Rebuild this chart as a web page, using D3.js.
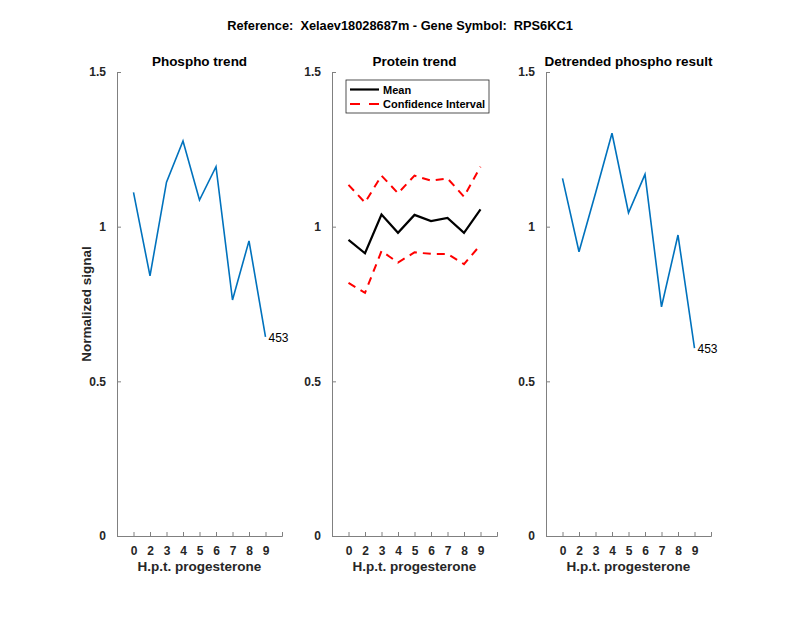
<!DOCTYPE html>
<html>
<head>
<meta charset="utf-8">
<script src="https://cdn.jsdelivr.net/npm/d3@7"></script>
<style>
  body { margin: 0; background: #fff; }
  text { font-family: "Liberation Sans", Arial, Helvetica, sans-serif; }
</style>
</head>
<body>
<svg id="chart" width="800" height="618"></svg>
<script>
const hours = ['0', '2', '3', '4', '5', '6', '7', '8', '9'];
const phospho = [1.111, 0.841, 1.144, 1.277, 1.086, 1.194, 0.763, 0.954, 0.644];
const proteinMean = [0.957, 0.914, 1.039, 0.980, 1.038, 1.018, 1.028, 0.980, 1.056];
const proteinUpper = [1.135, 1.078, 1.165, 1.108, 1.165, 1.149, 1.156, 1.097, 1.194];
const proteinLower = [0.818, 0.786, 0.921, 0.884, 0.917, 0.912, 0.912, 0.879, 0.941];
const detrended = [1.156, 0.919, 1.108, 1.302, 1.045, 1.169, 0.741, 0.973, 0.607];
const yTicks = [0, 0.5, 1, 1.5];
const peptideLabel = '453';

const svg = d3.select('#chart');
const top_y = 72, bottom_y = 536, axis_w = 165;
const panel_x = [117, 332, 546];
const axis_col = '#808080';
const blue = '#0072BD';

svg.append('text').text('Reference:  Xelaev18028687m - Gene Symbol:  RPS6KC1')
    .attr('x', 400).attr('y', 30).attr('text-anchor', 'middle')
    .style('white-space', 'pre')
    .style('font-size', '12.8px').style('font-weight', 'bold');

const y = d3.scaleLinear().domain([0, 1.5]).range([bottom_y, top_y]);

function panel(i, title) {
    const g = svg.append('g').attr('transform', `translate(${panel_x[i]},0)`);
    const x = d3.scaleLinear().domain([0, 10]).range([0, axis_w]);

    const yAxis = d3.axisLeft(y).tickValues(yTicks).tickSize(-4).tickPadding(8)
        .tickFormat(d => d === 0 ? '0' : String(d));
    const ya = g.append('g').call(yAxis);
    const xAxis = d3.axisBottom(x).tickValues(d3.range(1, 10)).tickSize(-4).tickPadding(8)
        .tickFormat((d, j) => hours[j]);
    const xa = g.append('g').attr('transform', `translate(0,${bottom_y})`).call(xAxis);
    [ya, xa].forEach(a => {
        a.select('.domain').attr('stroke', axis_col);
        a.selectAll('.tick line').attr('stroke', axis_col);
        a.selectAll('.tick text').attr('fill', '#262626')
            .style('font-size', '12px').style('font-weight', 'bold')
            .attr('font-family', null);
    });
    xa.selectAll('.tick text').attr('dy', '0.9em');
    ya.selectAll('.tick text').attr('dx', '-3px');

    g.append('text').text(title).attr('x', axis_w / 2).attr('y', 66)
        .attr('text-anchor', 'middle').style('font-size', '13.5px').style('font-weight', 'bold');
    g.append('text').text('H.p.t. progesterone').attr('x', axis_w / 2).attr('y', 571)
        .attr('text-anchor', 'middle').style('font-size', '13.5px').style('font-weight', 'bold')
        .attr('fill', '#262626');
    return {g, x};
}

function drawLine(p, vals, color, width, dash) {
    const line = d3.line().x((d, j) => p.x(j + 1)).y(d => y(d));
    p.g.append('path').datum(vals).attr('d', line)
        .attr('fill', 'none').attr('stroke', color).attr('stroke-width', width)
        .attr('stroke-dasharray', dash || null);
}

function endLabel(p, vals) {
    const n = vals.length;
    p.g.append('text').text(peptideLabel)
        .attr('x', p.x(n) + 3).attr('y', y(vals[n - 1]) + 5)
        .style('font-size', '12px');
}

const p1 = panel(0, 'Phospho trend');
drawLine(p1, phospho, blue, 1.6);
endLabel(p1, phospho);

const p2 = panel(1, 'Protein trend');
drawLine(p2, proteinUpper, '#ff0000', 2, '8,6');
drawLine(p2, proteinLower, '#ff0000', 2, '8,6');
drawLine(p2, proteinMean, '#000', 2.2);

// legend
const lg = svg.append('g').attr('transform', 'translate(346,80)');
lg.append('rect').attr('width', 143).attr('height', 33)
    .attr('fill', '#fff').attr('stroke', '#262626').attr('stroke-width', 0.8);
lg.append('line').attr('x1', 4).attr('x2', 33).attr('y1', 9.5).attr('y2', 9.5)
    .attr('stroke', '#000').attr('stroke-width', 2.2);
lg.append('line').attr('x1', 4).attr('x2', 33).attr('y1', 24).attr('y2', 24)
    .attr('stroke', '#ff0000').attr('stroke-width', 2).attr('stroke-dasharray', '10,9');
lg.append('text').text('Mean').attr('x', 37).attr('y', 13.5)
    .style('font-size', '11px').style('font-weight', 'bold');
lg.append('text').text('Confidence Interval').attr('x', 37).attr('y', 28)
    .style('font-size', '11px').style('font-weight', 'bold');

const p3 = panel(2, 'Detrended phospho result');
drawLine(p3, detrended, blue, 1.6);
endLabel(p3, detrended);

svg.append('text').text('Normalized signal')
    .attr('transform', `translate(91,${(top_y + bottom_y) / 2}) rotate(-90)`)
    .attr('text-anchor', 'middle').style('font-size', '13.5px').style('font-weight', 'bold')
    .attr('fill', '#262626');
</script>
</body>
</html>
